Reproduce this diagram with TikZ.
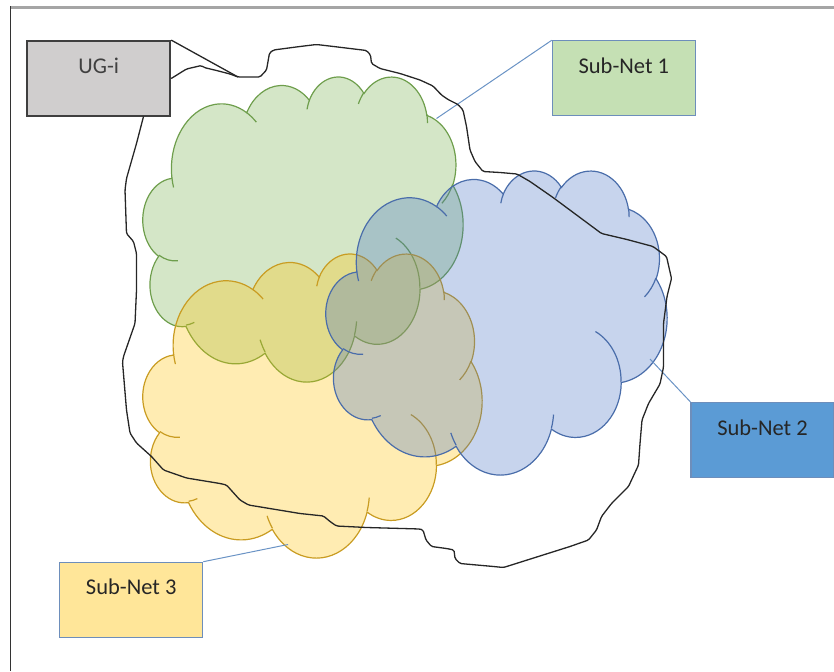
\documentclass[tikz,border=0pt]{standalone}
\usepackage{fontspec}
\setmainfont{Carlito}

\definecolor{boxline}{HTML}{6D8EBB}
\definecolor{linkblue}{HTML}{6A93C5}
\definecolor{ugfill}{HTML}{D0CECE}
\definecolor{ugline}{HTML}{3F3F3F}
\definecolor{snonefill}{HTML}{C5E0B4}
\definecolor{sntwofill}{HTML}{5B9BD5}
\definecolor{snthreefill}{HTML}{FFE699}
\definecolor{greenfill}{HTML}{70AD47}
\definecolor{greenline}{HTML}{6E9E4C}
\definecolor{yellowfill}{HTML}{FFC000}
\definecolor{yellowline}{HTML}{C99C22}
\definecolor{bluefill}{HTML}{4472C4}
\definecolor{blueline}{HTML}{4A6DAA}
\definecolor{framegray}{HTML}{A5A5A5}

% parametric angle of the ellipse point seen under a given angle
\pgfmathdeclarefunction{cang}{3}{%
	\begingroup
	\pgfmathparse{atan2((#1)*sin(#3),(#2)*cos(#3))-(#3)}%
	\let\cangd\pgfmathresult
	\pgfmathparse{(#3)+\cangd-360*round(\cangd/360)}%
	\pgfmathsmuggle\pgfmathresult
	\endgroup}
\newcommand\carc[4]{arc[x radius=#1, y radius=#2, start angle={cang(#1,#2,#3)}, end angle={cang(#1,#2,#3+#4)}]}

% cloud in a 43.2 x 43.2 box
\newcommand\cloudpath{(3.9,14.37)
	\carc{6.753}{9.19}{-190.4875}{123.7805}
	\carc{5.333}{7.267}{-144.1024}{89.9452}
	\carc{4.365}{5.945}{-145.8079}{99.723}
	\carc{4.857}{6.595}{-130.9861}{117.2417}
	\carc{5.333}{7.273}{-78.7089}{109.0269}
	\carc{6.775}{9.22}{-46.2673}{130.269}
	\carc{5.785}{7.867}{0.625}{114.0333}
	\carc{6.752}{9.215}{22.4516}{115.1726}
	\carc{7.72}{10.543}{66.2426}{75.711}
	\carc{4.36}{5.918}{-274.9421}{146.7356}
	\carc{4.345}{5.945}{-246.8285}{152.5189} -- cycle}
\newcommand\cloudhooks{(4.693,26.177) \carc{4.345}{5.945}{86.742}{26.4295}
	(6.928,34.899) \carc{4.36}{5.918}{73.6105}{11.4475}
	(16.478,39.09) \carc{6.752}{9.215}{137.6242}{14.0811}
	(28.827,34.751) \carc{6.752}{9.215}{6.4533}{15.9984}
	(34.129,22.954) \carc{5.785}{7.867}{-70.2924}{70.9174}
	(41.798,15.354) \carc{5.333}{7.273}{30.318}{27.7515}
	(38.324,5.426) \carc{4.857}{6.595}{-13.7443}{14.8589}
	(29.078,3.952) \carc{4.857}{6.595}{-149.1815}{18.1954}
	(22.141,4.72) \carc{4.365}{5.945}{-163.4943}{17.6864}
	(14,5.192) \carc{6.753}{9.19}{-66.707}{12.3194}
	(4.127,15.789) \carc{6.753}{9.19}{157.6544}{11.8582}}

\begin{document}
\begin{tikzpicture}[x=1pt, y=1pt, yscale=-1,
	netbox/.style={draw=boxline, line width=1.2pt, minimum width=143pt, inner sep=0pt,
		text height=32.5pt, text depth=42.5pt, font=\fontsize{22.5}{27}\selectfont, text=black!85},
	link/.style={draw=linkblue, line width=1pt},
	cloud/.style={line width=1.2pt, fill opacity=0.3},
	area/.style={black!85, line width=1.3pt, line join=round}]

	\useasboundingbox (0,0) rectangle (834,671);

	% frame
	\draw[framegray, line width=2.5pt] (10,7.5) -- (834,7.5);
	\draw[black!80, line width=1.2pt] (10.7,6.5) -- (10.7,671);

	% Sub-Net 1
	\begin{scope}[shift={(143,76)}, xscale=320/43.2, yscale=305/43.2]
		\filldraw[cloud, fill=greenfill, draw=greenline] \cloudpath;
		\draw[cloud, draw=greenline] \cloudhooks;
	\end{scope}

	% Sub-Net 3
	\begin{scope}[shift={(143,253)}, xscale=339/43.2, yscale=304/43.2]
		\filldraw[cloud, fill=yellowfill, draw=yellowline] \cloudpath;
		\draw[cloud, draw=yellowline] \cloudhooks;
	\end{scope}

	% Sub-Net 2
	\begin{scope}[shift={(326,170)}, xscale=341/43.2, yscale=304/43.2]
		\filldraw[cloud, fill=bluefill, draw=blueline] \cloudpath;
		\draw[cloud, draw=blueline] \cloudhooks;
	\end{scope}

	% boxes
	\node[netbox, fill=ugfill, draw=ugline, line width=1.8pt, text=black!75] (ugi) at (98.8,78.5) {UG-i};
	\node[netbox, fill=snonefill] (subnet1) at (623.8,78.4) {Sub-Net 1};
	\node[netbox, fill=sntwofill] (subnet2) at (762.5,440) {Sub-Net 2};
	\node[netbox, fill=snthreefill] (subnet3) at (131.2,599.8) {Sub-Net 3};

	% links
	\coordinate (pin1) at (436.5,118.5);
	\coordinate (pin2) at (650,359);
	\coordinate (pin3) at (288,544.5);
	\draw[link] (subnet1.north west) -- (pin1);
	\draw[link] (subnet2.north west) -- (pin2);
	\draw[link] (subnet3.north east) -- (pin3);

	% UG-i area
	\coordinate (notch) at (238,77);
	\draw[area] (ugi.north east) -- (notch);
	\draw[area, rounded corners=1.5pt] (ugi.east) -- (186.5,69) -- (201.5,65.5) -- (204,67.5) -- (216.5,70.5) -- (230,74) -- (notch)
		-- (260,77) -- (266.5,70) -- (269.5,53) -- (273.5,50) -- (300,46.5) -- (316.5,44.5) -- (333.5,46.5) -- (366.5,50.5)
		-- (370.5,55) -- (371.5,63.5) -- (380,68.5) -- (400,73.5) -- (420,80) -- (433,86) -- (441.5,95) -- (448,99.5)
		-- (458,104.5) -- (463,110) -- (466.5,126.5) -- (470,150) -- (475,161.5) -- (483,171.5) -- (500,172.5) -- (517,174)
		-- (530,181.5) -- (553,197.5) -- (601.5,233.5) -- (627,239.5) -- (653,246.5) -- (666.5,256.5) -- (671.5,278.5)
		-- (667,296.5) -- (663.5,323.5) -- (663.5,367) -- (660,384) -- (648.5,403.5) -- (642,420) -- (640,443.5)
		-- (638.5,465) -- (628.5,486.5) -- (611.5,503.5) -- (601.5,516.5) -- (596.5,530) -- (588.5,540) -- (570,546.5)
		-- (503.5,567.5) -- (493.5,566.5) -- (460,563.5) -- (455,558.5) -- (454,550) -- (446.5,548.5) -- (431.5,546.5)
		-- (426,540) -- (423,530) -- (420,529) -- (366.5,527.5) -- (336.5,526) -- (330,521.5) -- (323.5,516) -- (300,513.5)
		-- (248.5,505) -- (240,500) -- (226.5,485) -- (220,483.5) -- (186.5,478) -- (163.5,470) -- (151.5,456.5)
		-- (136.5,443) -- (130,433) -- (126.5,410) -- (122.5,362) -- (123.5,356.5) -- (131.5,333.5) -- (135,323.5)
		-- (136.5,290) -- (136.5,253.5) -- (133.5,241.5) -- (126.5,233.5) -- (125,190) -- (126.5,178.5) -- (136.5,143.5)
		-- (143.5,116.5);

\end{tikzpicture}
\end{document}
